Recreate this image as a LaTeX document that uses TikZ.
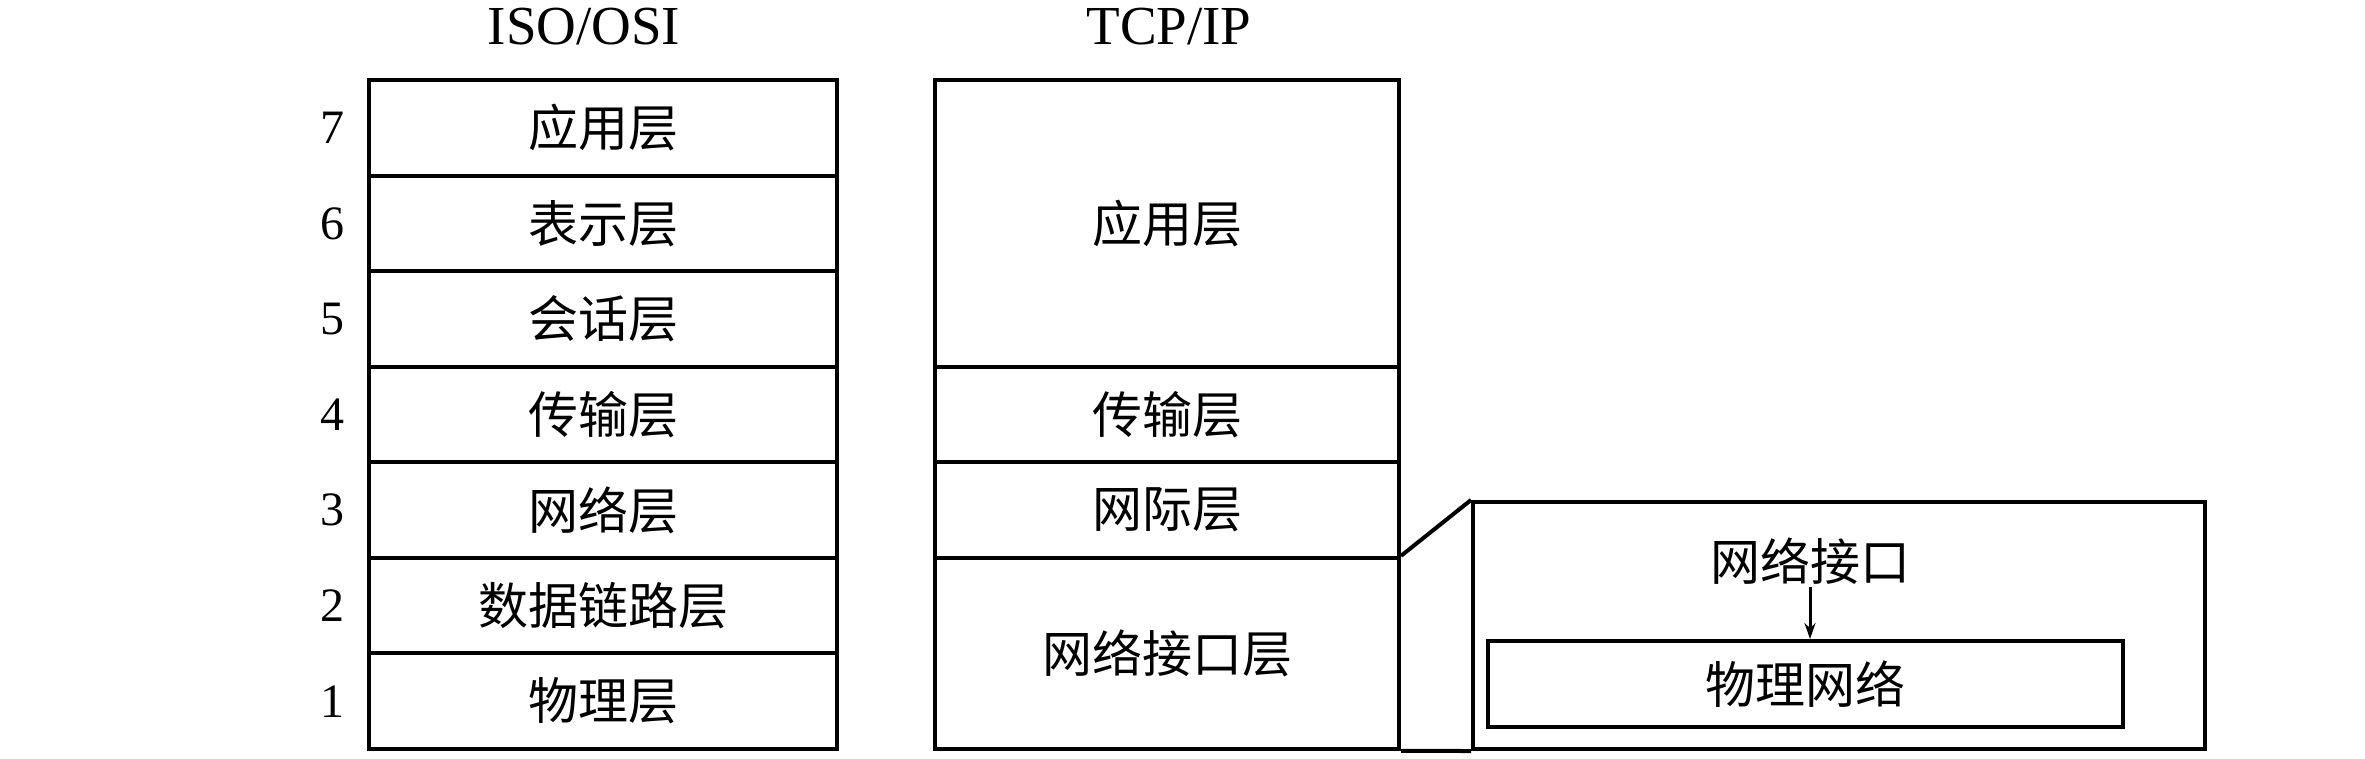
\documentclass[tikz,border=0pt]{standalone}
\usepackage{fontspec}
\setmainfont{Liberation Serif}
\newfontfamily\cjk{Noto Sans CJK SC}
\usetikzlibrary{arrows.meta}
\begin{document}
\begin{tikzpicture}[x=1pt,y=-1pt,
  layer/.style={draw,line width=4pt,font=\cjk\fontsize{50}{54}\selectfont,inner sep=0pt,anchor=center},
  num/.style={font=\fontsize{48}{52}\selectfont,inner sep=0pt},
  title/.style={font=\fontsize{55}{60}\selectfont,inner sep=0pt},
  lbl/.style={font=\cjk\fontsize{50}{54}\selectfont,inner sep=2pt}]
\useasboundingbox (0,0) rectangle (2365,759);
% titles
\node[title] (t1) at (584,27) {ISO/OSI};
\node[title] (t2) at (1169,27) {TCP/IP};
% OSI column
\foreach \i/\n/\t in {0/7/应用层,1/6/表示层,2/5/会话层,3/4/传输层,4/3/网络层,5/2/数据链路层,6/1/物理层}{
  \node[layer,minimum width=468pt,minimum height=95.57pt] (o\n) at (603,{80+95.57*(\i+0.5)}) {\t};
  \node[num] (n\n) at (332,{80+95.57*(\i+0.5)}) {\n};
}
% TCP/IP column
\node[layer,minimum width=464pt,minimum height=286.7pt] (app) at (1167,223.35) {应用层};
\node[layer,minimum width=464pt,minimum height=95.57pt] (tr) at (1167,414.5) {传输层};
\node[layer,minimum width=464pt,minimum height=95.57pt] (ip) at (1167,510.1) {网际层};
\node[layer,minimum width=464pt,minimum height=191.1pt] (ni) at (1167,653.4) {网络接口层};
% expanded box
\node[draw,line width=4pt,minimum width=732pt,minimum height=247pt,inner sep=0pt] (big) at (1839,625.5) {};
\draw[line width=4pt] (ni.north east) -- (big.north west);
\draw[line width=4pt] (ni.south east) -- (big.south west);
\node[lbl] (nif) at (1810,561) {网络接口};
\node[layer,minimum width=635pt,minimum height=86pt] (pn) at (1805.5,684) {物理网络};
\draw[line width=3pt,-{Stealth[length=16pt,width=11pt]}] (nif.south) -- (nif.south |- pn.north);
\end{tikzpicture}
\end{document}
